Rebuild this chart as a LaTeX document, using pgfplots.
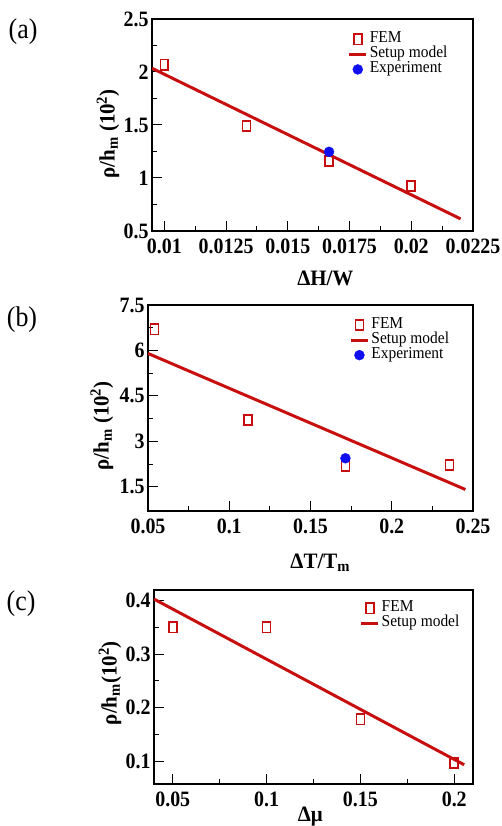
\documentclass[border=0pt]{standalone}
\usepackage{pgfplots}
\pgfplotsset{compat=1.18}
\usepackage{fontspec}
\setmainfont{Liberation Serif}
\definecolor{fred}{RGB}{200,15,15}
\definecolor{fblue}{RGB}{15,15,240}
\pgfplotsset{
  myax/.style={
    scale only axis,
    axis line style={line width=1.6pt},
    tick align=inside,
    xtick pos=bottom, ytick pos=left,
    major tick length=10bp, minor tick length=5bp,
    every tick/.style={line width=1pt, black},
    minor x tick num=1, minor y tick num=1,
    ticklabel style={font=\bfseries\fontsize{20}{20}\selectfont, yscale=1.1},
    xticklabel style={yshift=-4bp},
    /pgf/number format/assume math mode=true,
    scaled ticks=false,
    label style={font=\bfseries\fontsize{21}{22}\selectfont, yscale=1.05},
    legend style={draw=none, fill=none, font=\fontsize{15.5}{15.5}\selectfont,
      row sep=0pt, anchor=north west,
      nodes={inner sep=0.5pt, text height=9.5pt, text depth=3.5pt, yscale=1.08},
      /tikz/every odd column/.append style={column sep=1.5pt}},
    legend cell align=left,
  },
  fem/.style={only marks, mark=square, mark size=4pt, mark options={yscale=1.3, line width=1.7pt, draw=fred, fill=none}},
  setup/.style={fred, line width=3pt, no marks},
  expt/.style={only marks, mark=*, mark size=5pt, mark options={draw=fblue, fill=fblue}},
}
\begin{document}
\begin{tikzpicture}[x=1bp,y=1bp]
\useasboundingbox (0,0) rectangle (502,826);
% (a)
\begin{axis}[myax, at={(152bp,595bp)}, anchor=south west, width=321bp, height=212bp,
  xmin=0.0095, xmax=0.0225, ymin=0.5, ymax=2.5,
  xtick={0.01,0.0125,0.015,0.0175,0.02,0.0225},
  xticklabels={0.01,0.0125,0.015,0.0175,0.02,0.0225},
  ytick={0.5,1,1.5,2,2.5}, yticklabels={0.5,1,1.5,2,2.5},
  xlabel={ΔH/W},
  xlabel style={at={(axis description cs:0.54,-0.226)}, anchor=center},
  ylabel={ρ/h\textsubscript{m} (10\textsuperscript{2})},
  ylabel style={at={(axis description cs:-0.137,0.458)}, anchor=center},
  legend style={at={(axis description cs:0.60,0.95)}},
]
\addplot[fem] coordinates {(0.01,2.07) (0.01333,1.49) (0.01667,1.16) (0.02,0.925)};
\addlegendentry{FEM}
\addplot[setup] coordinates {(0.0095,2.035) (0.0220,0.614)};
\addlegendentry{Setup model}
\addplot[expt] coordinates {(0.01667,1.247)};
\addlegendentry{Experiment}
\end{axis}
% (b)
\begin{axis}[myax, at={(148bp,315bp)}, anchor=south west, width=325bp, height=206bp,
  xmin=0.05, xmax=0.25, ymin=0.7, ymax=7.5,
  xtick={0.05,0.1,0.15,0.2,0.25}, xticklabels={0.05,0.1,0.15,0.2,0.25},
  ytick={1.5,3,4.5,6,7.5}, yticklabels={1.5,3,4.5,6,7.5},
  xlabel={ΔT/T\textsubscript{m}},
  xlabel style={at={(axis description cs:0.53,-0.252)}, anchor=center},
  ylabel={ρ/h\textsubscript{m} (10\textsuperscript{2})},
  ylabel style={at={(axis description cs:-0.142,0.413)}, anchor=center},
  legend style={at={(axis description cs:0.61,0.95)}},
]
\addplot[fem] coordinates {(0.054,6.7) (0.1115,3.7) (0.1715,2.2) (0.2355,2.22)};
\addlegendentry{FEM}
\addplot[setup] coordinates {(0.05,5.9) (0.2453,1.41)};
\addlegendentry{Setup model}
\addplot[expt] coordinates {(0.1715,2.44)};
\addlegendentry{Experiment}
\end{axis}
% (c)
\begin{axis}[myax, at={(154bp,42bp)}, anchor=south west, width=319bp, height=194bp,
  xmin=0.04, xmax=0.21, ymin=0.057, ymax=0.42,
  xtick={0.05,0.1,0.15,0.2}, xticklabels={0.05,0.1,0.15,0.2},
  ytick={0.1,0.2,0.3,0.4}, yticklabels={0.1,0.2,0.3,0.4},
  xlabel={Δμ},
  xlabel style={at={(axis description cs:0.49,-0.17)}, anchor=center},
  ylabel={ρ/h\textsubscript{m}(10\textsuperscript{2})},
  ylabel style={at={(axis description cs:-0.138,0.52)}, anchor=center},
  legend style={at={(axis description cs:0.635,0.955)}},
]
\addplot[fem] coordinates {(0.05,0.35) (0.1,0.35) (0.15,0.178) (0.2,0.096)};
\addlegendentry{FEM}
\addplot[setup] coordinates {(0.04,0.403) (0.2053,0.093)};
\addlegendentry{Setup model}
\end{axis}
\node[font=\fontsize{26}{26}\selectfont, yscale=1.1] at (23bp,794bp) {(a)};
\node[font=\fontsize{26}{26}\selectfont, yscale=1.1] at (22bp,506bp) {(b)};
\node[font=\fontsize{26}{26}\selectfont, yscale=1.1] at (21bp,222bp) {(c)};
\end{tikzpicture}
\end{document}
